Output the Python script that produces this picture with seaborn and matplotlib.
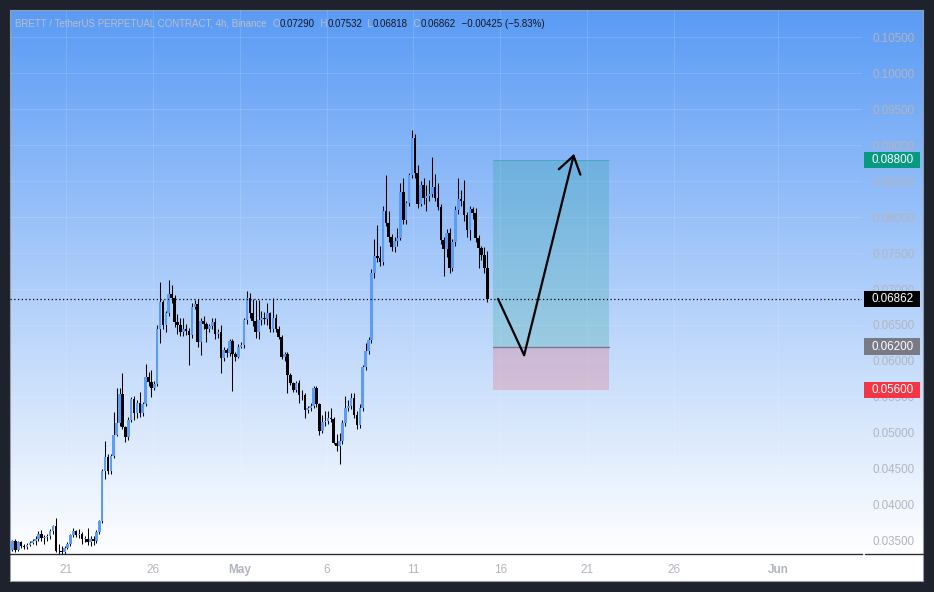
import numpy as np
import pandas as pd
import matplotlib
matplotlib.use("Agg")
import matplotlib.pyplot as plt
import matplotlib.dates as mdates
import matplotlib.transforms as mtransforms
from matplotlib.patches import Rectangle
from matplotlib.lines import Line2D
import seaborn as sns

# 4h candles, BRETT/USDT perp
first_open = 0.0337
closes = [
    0.0350, 0.0337, 0.0348, 0.0343, 0.0341, 0.0344, 0.0347, 0.0349, 0.0353, 0.0360,
    0.0354, 0.0355, 0.0357, 0.0364, 0.0370, 0.0335, 0.0336, 0.0334, 0.0340, 0.0345,
    0.0358, 0.0363, 0.0358, 0.0360, 0.0352, 0.0353, 0.0348, 0.0352, 0.0349, 0.0362,
    0.0377, 0.0447, 0.0466, 0.0447, 0.0468, 0.0497, 0.0513, 0.0554, 0.0508, 0.0494,
    0.0518, 0.0547, 0.0527, 0.0542, 0.0527, 0.0540, 0.0578, 0.0571, 0.0563, 0.0568,
    0.0645, 0.0682, 0.0650, 0.0667, 0.0693, 0.0688, 0.0654, 0.0650, 0.0640, 0.0645,
    0.0642, 0.0636, 0.0675, 0.0679, 0.0626, 0.0655, 0.0651, 0.0645, 0.0648, 0.0654,
    0.0637, 0.0640, 0.0604, 0.0615, 0.0611, 0.0628, 0.0610, 0.0606, 0.0620, 0.0622,
    0.0657, 0.0687, 0.0667, 0.0656, 0.0640, 0.0657, 0.0660, 0.0658, 0.0666, 0.0645,
    0.0660, 0.0645, 0.0633, 0.0606, 0.0610, 0.0581, 0.0569, 0.0560, 0.0569, 0.0553,
    0.0552, 0.0532, 0.0535, 0.0538, 0.0562, 0.0540, 0.0503, 0.0515, 0.0517, 0.0520,
    0.0519, 0.0486, 0.0482, 0.0488, 0.0514, 0.0535, 0.0537, 0.0549, 0.0525, 0.0511,
    0.0535, 0.0592, 0.0614, 0.0629, 0.0722, 0.0746, 0.0743, 0.0737, 0.0808, 0.0792,
    0.0772, 0.0758, 0.0767, 0.0771, 0.0835, 0.0796, 0.0819, 0.0858, 0.0910, 0.0861,
    0.0818, 0.0844, 0.0826, 0.0829, 0.0832, 0.0842, 0.0826, 0.0814, 0.0768, 0.0756,
    0.0778, 0.0729, 0.0765, 0.0810, 0.0825, 0.0822, 0.0803, 0.0782, 0.0811, 0.0806,
    0.0771, 0.0757, 0.0747, 0.0729, 0.06862,
]
highs = [
    0.0351, 0.0352, 0.0350, 0.0350, 0.0346, 0.0347, 0.0350, 0.0352, 0.0356, 0.0364,
    0.0365, 0.0358, 0.0360, 0.0366, 0.0372, 0.0382, 0.0345, 0.0342, 0.0343, 0.0348,
    0.0360, 0.0367, 0.0365, 0.0366, 0.0362, 0.0356, 0.0368, 0.0356, 0.0356, 0.0365,
    0.0379, 0.0450, 0.0488, 0.0470, 0.0470, 0.0529, 0.0562, 0.0563, 0.0583, 0.0510,
    0.0522, 0.0550, 0.0551, 0.0545, 0.0557, 0.0543, 0.0596, 0.0585, 0.0587, 0.0572,
    0.0650, 0.0710, 0.0685, 0.0670, 0.0712, 0.0705, 0.0692, 0.0665, 0.0660, 0.0660,
    0.0652, 0.0646, 0.0680, 0.0685, 0.0686, 0.0660, 0.0662, 0.0654, 0.0652, 0.0660,
    0.0660, 0.0645, 0.0650, 0.0620, 0.0618, 0.0631, 0.0631, 0.0612, 0.0624, 0.0626,
    0.0660, 0.0697, 0.0694, 0.0686, 0.0685, 0.0685, 0.0670, 0.0668, 0.0680, 0.0668,
    0.0687, 0.0665, 0.0648, 0.0636, 0.0613, 0.0612, 0.0583, 0.0571, 0.0572, 0.0573,
    0.0560, 0.0556, 0.0538, 0.0542, 0.0565, 0.0565, 0.0542, 0.0525, 0.0530, 0.0530,
    0.0535, 0.0522, 0.0498, 0.0500, 0.0518, 0.0551, 0.0545, 0.0555, 0.0556, 0.0530,
    0.0540, 0.0595, 0.0625, 0.0633, 0.0728, 0.0770, 0.0789, 0.0760, 0.0815, 0.0858,
    0.0808, 0.0776, 0.0773, 0.0785, 0.0847, 0.0855, 0.0822, 0.0862, 0.0921, 0.0915,
    0.0872, 0.0850, 0.0855, 0.0845, 0.0852, 0.0883, 0.0860, 0.0848, 0.0818, 0.0772,
    0.0783, 0.0785, 0.0770, 0.0815, 0.0854, 0.0838, 0.0852, 0.0807, 0.0815, 0.0814,
    0.0812, 0.0775, 0.0760, 0.0759, 0.07532,
]
lows = [
    0.0335, 0.0334, 0.0336, 0.0340, 0.0338, 0.0338, 0.0342, 0.0345, 0.0344, 0.0350,
    0.0350, 0.0346, 0.0350, 0.0352, 0.0360, 0.0334, 0.0332, 0.0332, 0.0332, 0.0338,
    0.0343, 0.0355, 0.0355, 0.0354, 0.0345, 0.0348, 0.0344, 0.0343, 0.0344, 0.0347,
    0.0360, 0.0375, 0.0436, 0.0443, 0.0443, 0.0465, 0.0495, 0.0510, 0.0505, 0.0487,
    0.0490, 0.0515, 0.0518, 0.0520, 0.0522, 0.0523, 0.0538, 0.0565, 0.0550, 0.0560,
    0.0565, 0.0625, 0.0645, 0.0640, 0.0662, 0.0680, 0.0647, 0.0638, 0.0635, 0.0635,
    0.0636, 0.0594, 0.0632, 0.0672, 0.0620, 0.0608, 0.0645, 0.0626, 0.0640, 0.0644,
    0.0630, 0.0632, 0.0583, 0.0600, 0.0605, 0.0607, 0.0558, 0.0600, 0.0604, 0.0618,
    0.0618, 0.0652, 0.0660, 0.0648, 0.0632, 0.0630, 0.0650, 0.0652, 0.0650, 0.0640,
    0.0640, 0.0640, 0.0630, 0.0602, 0.0600, 0.0556, 0.0566, 0.0557, 0.0557, 0.0542,
    0.0545, 0.0521, 0.0528, 0.0530, 0.0535, 0.0536, 0.0497, 0.0500, 0.0510, 0.0512,
    0.0515, 0.0484, 0.0475, 0.0457, 0.0485, 0.0510, 0.0530, 0.0533, 0.0520, 0.0505,
    0.0507, 0.0530, 0.0588, 0.0610, 0.0625, 0.0715, 0.0738, 0.0732, 0.0733, 0.0788,
    0.0765, 0.0753, 0.0752, 0.0760, 0.0768, 0.0790, 0.0790, 0.0815, 0.0855, 0.0855,
    0.0812, 0.0815, 0.0818, 0.0808, 0.0822, 0.0828, 0.0822, 0.0810, 0.0762, 0.0718,
    0.0745, 0.0722, 0.0725, 0.0760, 0.0805, 0.0815, 0.0795, 0.0772, 0.0768, 0.0798,
    0.0766, 0.0729, 0.0740, 0.0722, 0.06818,
]
last_bar = "2024-05-15 04:00"

price_ticks = [0.035, 0.040, 0.045, 0.050, 0.055, 0.060, 0.065, 0.070,
               0.075, 0.080, 0.085, 0.090, 0.095, 0.100, 0.105]
date_ticks = ["2024-04-21", "2024-04-26", "2024-05-01", "2024-05-06", "2024-05-11",
              "2024-05-16", "2024-05-21", "2024-05-26", "2024-06-01"]
date_labels = ["21", "26", "May", "6", "11", "16", "21", "26", "Jun"]

# long position drawing
last_price = 0.06862
entry_price = 0.0620
target_price = 0.0880
stop_price = 0.0560
box_start = "2024-05-15 14:00"
box_end = "2024-05-22 06:00"
path_times = ["2024-05-15 21:00", "2024-05-17 09:00", "2024-05-20 06:00"]
path_prices = [0.06862, 0.0608, 0.0888]

header_parts = [
    ("BRETT / TetherUS PERPETUAL CONTRACT, 4h, Binance  ", "grey"),
    ("O", "grey"), ("0.07290", "dark"), ("  H", "grey"), ("0.07532", "dark"),
    ("  L", "grey"), ("0.06818", "dark"), ("  C", "grey"), ("0.06862", "dark"),
    ("  \u22120.00425 (\u22125.83%)", "dark"),
]

sns.set_style("white")
plt.rcParams["font.family"] = ["Liberation Sans", "DejaVu Sans"]

W, H = 934, 592
UP = "#5b9cf6"
GREY_TXT = "#b2b5be"
DARK_TXT = "#131722"


def fx(px):
    return px / W


def fy(py):
    return 1 - py / H


fig = plt.figure(figsize=(W / 100, H / 100), dpi=100)
fig.patch.set_facecolor("#1e222d")

# gradient panel behind everything
bg = fig.add_axes([fx(10), fy(581), fx(923) - fx(10), fy(10) - fy(581)])
rows = np.arange(10, 581)
t = np.clip((rows - 10) / (553 - 10), 0, 1)[:, None]
top = np.array([0x5a, 0x9b, 0xf5]) / 255
grad = top * (1 - t) + np.ones(3) * t
bg.imshow(grad[:, None, :], aspect="auto", extent=[0, 1, 0, 1])
bg.set_xticks([])
bg.set_yticks([])
for s in bg.spines.values():
    s.set_color("#9a9da6")
    s.set_linewidth(0.8)

ax = fig.add_axes([fx(10), fy(554), fx(862) - fx(10), fy(10) - fy(554)])
ax.set_facecolor("none")

times = pd.date_range(end=pd.Timestamp(last_bar), periods=len(closes), freq="4h") + pd.Timedelta(hours=2)
df = pd.DataFrame({"time": times, "close": closes, "high": highs, "low": lows})
df["open"] = [first_open] + closes[:-1]
df["x"] = mdates.date2num(df["time"])
up = df["close"] >= df["open"]
body_lo = df[["open", "close"]].min(axis=1)
body_h = (df["close"] - df["open"]).abs().clip(lower=0.00012)

ax.vlines(df["x"], df["low"], df["high"], color="black", lw=0.75, zorder=2)
ax.bar(df["x"], body_h, bottom=body_lo, width=0.15,
       color=np.where(up, UP, "black"), linewidth=0, zorder=3)

# x range: Apr 21 sits at px 66, 17.37 px per day
anchor = mdates.date2num(pd.Timestamp("2024-04-21"))
ax.set_xlim(anchor - 56 / 17.37, anchor + 796 / 17.37)
ax.set_ylim(0.03315, 0.10880)

ax.set_xticks(mdates.date2num(pd.to_datetime(date_ticks)))
ax.set_xticklabels(date_labels)
for lab, txt in zip(ax.get_xticklabels(), date_labels):
    if not txt.isdigit():
        lab.set_fontweight("bold")
ax.yaxis.tick_right()
ax.set_yticks(price_ticks)
ax.set_yticklabels([f"{p:.5f}" for p in price_ticks])
ax.tick_params(axis="x", length=0, pad=7.5, labelsize=8.5, labelcolor=GREY_TXT)
ax.tick_params(axis="y", length=0, pad=7.5, labelsize=8.4, labelcolor=GREY_TXT)
ax.grid(True, color="white", alpha=0.13, lw=0.8)
for side in ["top", "left", "right"]:
    ax.spines[side].set_visible(False)
ax.spines["bottom"].set_color("#2a2e39")
ax.spines["bottom"].set_linewidth(1.0)
fig.add_artist(Line2D([fx(865), fx(923)], [fy(554), fy(554)], color="#2a2e39", lw=1.0))

# position tool
b0, b1 = mdates.date2num(pd.Timestamp(box_start)), mdates.date2num(pd.Timestamp(box_end))
ax.add_patch(Rectangle((b0, entry_price), b1 - b0, target_price - entry_price,
                       facecolor="#089981", alpha=0.2, edgecolor="none", zorder=4))
ax.add_patch(Rectangle((b0, stop_price), b1 - b0, entry_price - stop_price,
                       facecolor="#f23645", alpha=0.2, edgecolor="none", zorder=4))
ax.plot([b0, b1], [entry_price, entry_price], color="#787b86", lw=1.0, zorder=5)
ax.plot([b0, b1], [target_price, target_price], color="#089981", lw=0.6, alpha=0.4, zorder=5)

px = mdates.date2num(pd.to_datetime(path_times))
ax.plot(px[:2], path_prices[:2], color="black", lw=1.6, zorder=6, solid_capstyle="round")
ax.annotate("", xy=(px[2], path_prices[2]), xytext=(px[1], path_prices[1]),
            arrowprops=dict(arrowstyle="->,head_length=0.6,head_width=0.4", color="black",
                            lw=1.6, shrinkA=0, shrinkB=0, mutation_scale=20), zorder=6)

ax.axhline(last_price, color="black", lw=0.9, ls=(0, (1, 2)), zorder=5)

# price tags on the scale
blend = mtransforms.blended_transform_factory(ax.transAxes, ax.transData)
ax_w = 862 - 10
for price, col in [(target_price, "#089981"), (last_price, "#000000"),
                   (entry_price, "#787b86"), (stop_price, "#f23645")]:
    ax.add_patch(Rectangle(((864 - 10) / ax_w, price - 0.00112), 56 / ax_w, 0.00224,
                           transform=blend, facecolor=col, edgecolor="none",
                           clip_on=False, zorder=8))
    ax.text((872 - 10) / ax_w, price, f"{price:.5f}", transform=blend, color="white",
            fontsize=8.4, va="center", ha="left", clip_on=False, zorder=9)

# header line
fig.canvas.draw()
renderer = fig.canvas.get_renderer()
cur = 15
for txt, kind in header_parts:
    tt = fig.text(fx(cur), fy(24), txt, fontsize=7.0, va="center", ha="left",
                  color="#bcbec4" if kind == "grey" else DARK_TXT)
    cur = tt.get_window_extent(renderer).x1

fig.savefig("out.png", dpi=100, facecolor=fig.get_facecolor())
